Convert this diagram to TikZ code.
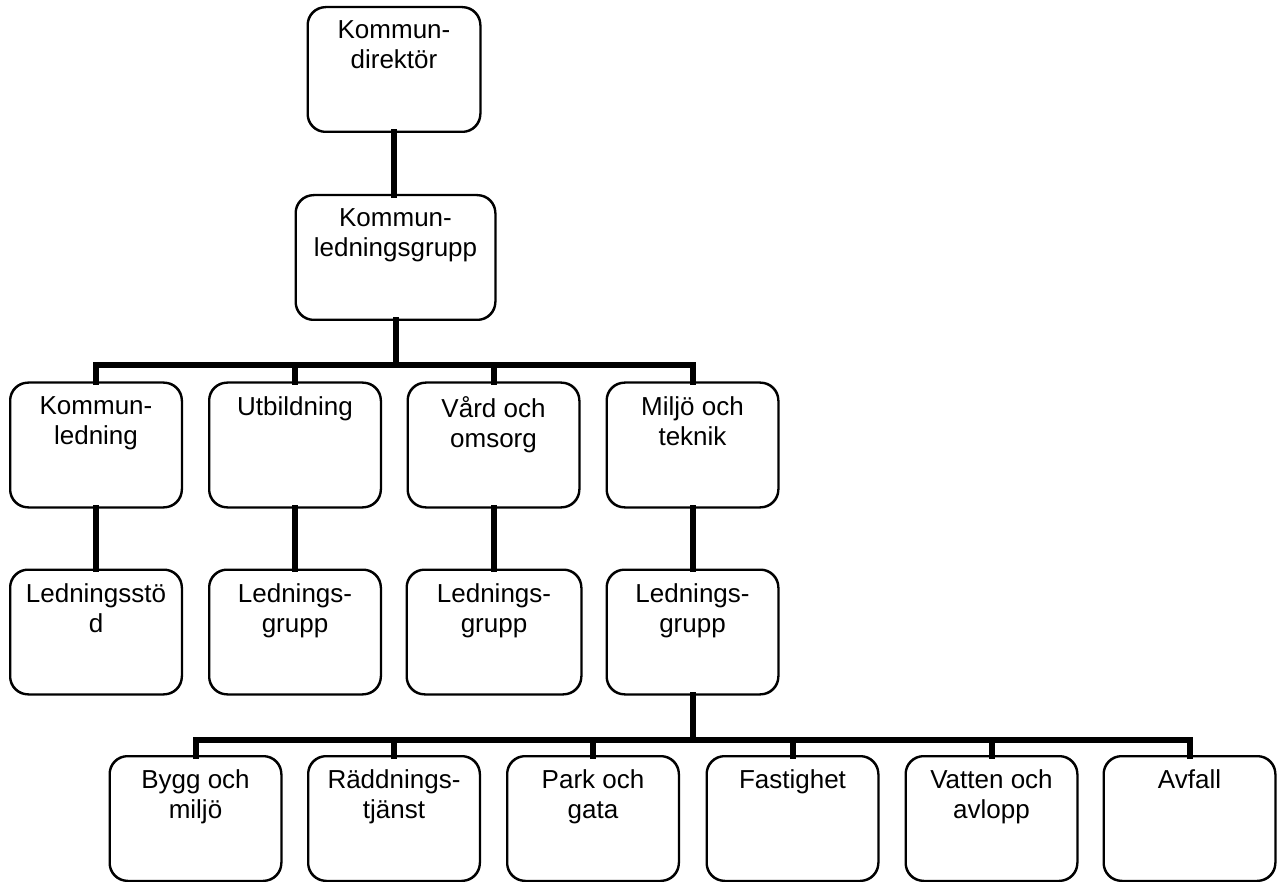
\documentclass[tikz,border=0pt]{standalone}
\usepackage{fontspec}
\setmainfont{Liberation Sans}
\begin{document}
\begin{tikzpicture}[x=1pt,y=-1pt,
  box/.style={draw=black, line width=1.5pt, rounded corners=18pt, fill=white,
    minimum width=171pt, minimum height=124pt, inner sep=0pt},
  lbl/.style={anchor=north, align=center, inner sep=0pt,
    font=\fontsize{26}{30}\selectfont},
  conn/.style={draw=black, line width=6pt, line cap=rect, line join=miter}]
\useasboundingbox (0,0) rectangle (1280,882);

% bus lines
\coordinate (busA) at (0,365);
\coordinate (busB) at (0,740);

% top levels
\node[box, minimum width=172pt] (kd) at (394,69.5) {};
\node[box, minimum width=199pt] (klg) at (395.5,257.5) {};

% second row
\node[box] (kl)  at (96,445) {};
\node[box] (utb) at (295,445) {};
\node[box] (vo)  at (493.5,445) {};
\node[box] (mt)  at (692.5,445) {};

% third row
\node[box] (ls)   at (96,632) {};
\node[box] (lgu)  at (295,632) {};
\node[box, minimum width=174pt] (lgv)  at (494,632) {};
\node[box] (lgm)  at (692.5,632) {};

% fourth row
\node[box] (bm)  at (195.5,818.5) {};
\node[box] (rt)  at (394,818.5) {};
\node[box] (pg)  at (593,818.5) {};
\node[box] (fa)  at (792.5,818.5) {};
\node[box] (va)  at (991.5,818.5) {};
\node[box] (av)  at (1189.5,818.5) {};

% connectors
\draw[conn] (kd.south) -- (kd.south |- klg.north);
\draw[conn] (klg.south) -- (klg.south |- busA);
\draw[conn] (kl.north) -- (kl.north |- busA) -- (mt.north |- busA) -- (mt.north);
\draw[conn] (utb.north) -- (utb.north |- busA);
\draw[conn] (vo.north) -- (vo.north |- busA);

\draw[conn] (kl.south) -- (kl.south |- ls.north);
\draw[conn] (utb.south) -- (utb.south |- lgu.north);
\draw[conn] (vo.south) -- (vo.south |- lgv.north);
\draw[conn] (mt.south) -- (mt.south |- lgm.north);

\draw[conn] (lgm.south) -- (lgm.south |- busB);
\draw[conn] (bm.north) -- (bm.north |- busB) -- (av.north |- busB) -- (av.north);
\draw[conn] (rt.north) -- (rt.north |- busB);
\draw[conn] (pg.north) -- (pg.north |- busB);
\draw[conn] (fa.north) -- (fa.north |- busB);
\draw[conn] (va.north) -- (va.north |- busB);

% redraw boxes on top of connector ends
\foreach \n in {kd,klg,kl,utb,vo,mt,ls,lgu,lgv,lgm,bm,rt,pg,fa,va,av}
  \draw[line width=1.5pt, rounded corners=18pt] (\n.south west) rectangle (\n.north east);

% texts
\node[lbl] (t-kd)  at ([yshift=-14pt]kd.north)  {Kommun-\\direktör};
\node[lbl] (t-klg) at ([yshift=-14pt]klg.north) {Kommun-\\ledningsgrupp};
\node[lbl] (t-kl)  at ([yshift=-14pt]kl.north)  {Kommun-\\ledning};
\node[lbl] (t-utb) at ([yshift=-14pt]utb.north) {Utbildning};
\node[lbl] (t-vo)  at ([yshift=-14pt]vo.north)  {Vård och\\omsorg};
\node[lbl] (t-mt)  at ([yshift=-14pt]mt.north)  {Miljö och\\teknik};
\node[lbl] (t-ls)  at ([yshift=-14pt]ls.north)  {Ledningsstö\\d};
\node[lbl] (t-lgu) at ([yshift=-14pt]lgu.north) {Lednings-\\grupp};
\node[lbl] (t-lgv) at ([yshift=-14pt]lgv.north) {Lednings-\\grupp};
\node[lbl] (t-lgm) at ([yshift=-14pt]lgm.north) {Lednings-\\grupp};
\node[lbl] (t-bm)  at ([yshift=-14pt]bm.north)  {Bygg och\\miljö};
\node[lbl] (t-rt)  at ([yshift=-14pt]rt.north)  {Räddnings-\\tjänst};
\node[lbl] (t-pg)  at ([yshift=-14pt]pg.north)  {Park och\\gata};
\node[lbl] (t-fa)  at ([yshift=-14pt]fa.north)  {Fastighet};
\node[lbl] (t-va)  at ([yshift=-14pt]va.north)  {Vatten och\\avlopp};
\node[lbl] (t-av)  at ([yshift=-14pt]av.north)  {Avfall};
\end{tikzpicture}
\end{document}
